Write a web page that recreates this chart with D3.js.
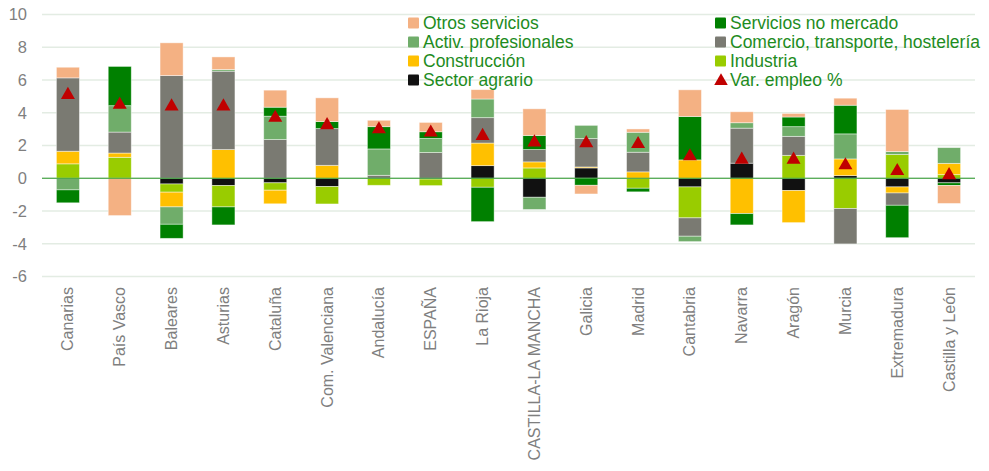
<!DOCTYPE html>
<html><head><meta charset="utf-8">
<script src="https://cdn.jsdelivr.net/npm/d3@7"></script>
<style>body{margin:0;background:#fff;}svg{display:block;font-family:"Liberation Sans",Arial,sans-serif;}</style>
</head><body><svg id="c" width="989" height="471"></svg>
<script>
const categories = ["Canarias","País Vasco","Baleares","Asturias","Cataluña","Com. Valenciana","Andalucía","ESPAÑA","La Rioja","CASTILLA-LA MANCHA","Galicia","Madrid","Cantabria","Navarra","Aragón","Murcia","Extremadura","Castilla y León"];
const sectorAgrario = [0, 0, -0.35, -0.45, -0.28, -0.51, 0, -0.05, 0.77, -1.16, 0.63, 0, -0.53, 0.92, -0.75, 0.16, -0.53, -0.28];
const industria = [0.88, 1.28, -0.5, -1.3, -0.45, -1.06, -0.43, -0.4, -0.55, 0.63, 0, -0.61, -1.89, 0, 1.4, -1.85, 1.45, 0.22];
const construccion = [0.77, 0.26, -0.9, 1.75, -0.83, 0.79, 0, 0, 1.38, 0.37, 0.06, 0.39, 1.12, -2.16, -1.96, 1.02, -0.37, 0.69];
const comercio = [4.48, 1.28, 6.27, 4.79, 2.36, 2.24, 0.18, 1.57, 1.55, 0.75, 1.73, 1.2, -1.12, 2.14, 1.16, -2.16, -0.75, 0];
const activProf = [-0.71, 1.61, -1.06, 0.1, 1.43, 0, 1.61, 0.86, 1.14, -0.75, 0.81, 1.22, -0.33, 0.33, 0.59, 1.53, 0.18, 0.96];
const serviciosNoMercado = [-0.79, 2.4, -0.86, -1.1, 0.55, 0.43, 1.36, 0.41, -2.1, 0.86, -0.43, -0.22, 2.65, -0.69, 0.59, 1.75, -1.98, -0.16];
const otrosServicios = [0.65, -2.28, 2.0, 0.77, 1.04, 1.45, 0.39, 0.57, 0.57, 1.63, -0.53, 0.2, 1.63, 0.67, 0.22, 0.43, 2.57, -1.1];
const varEmpleo = [5.2, 4.6, 4.5, 4.5, 3.8, 3.35, 3.1, 2.9, 2.7, 2.3, 2.25, 2.2, 1.45, 1.25, 1.25, 0.9, 0.55, 0.3];
const yTicks = [-6,-4,-2,0,2,4,6,8,10];

const seriesNames = ["Sector agrario","Industria","Construcción","Comercio, transporte, hostelería","Activ. profesionales","Servicios no mercado","Otros servicios"];
const seriesValues = [sectorAgrario, industria, construccion, comercio, activProf, serviciosNoMercado, otrosServicios];
const colors = ["#111111","#99CC00","#FFC000","#7A7A72","#70AD6A","#008000","#F4B183"];

const svg = d3.select("#c");
const x = d3.scaleBand().domain(categories).range([42, 975]).paddingInner(0.555).paddingOuter(0.2775);
const y = d3.scaleLinear().domain([-6, 10]).range([276.5, 14.5]);

// gridlines
svg.append("g").selectAll("line").data(yTicks).join("line")
  .attr("x1", 42).attr("x2", 975)
  .attr("y1", d => y(d)).attr("y2", d => y(d))
  .attr("stroke", "#E3ECE3").attr("stroke-width", 1.3);

// y labels
svg.append("g").selectAll("text").data(yTicks).join("text")
  .attr("x", 27).attr("y", d => y(d)).attr("dy", "0.35em")
  .attr("text-anchor", "end").attr("font-size", 16.5).attr("fill", "#7F7F7F")
  .text(d => d);

// stacked data
const rows = categories.map((c, i) => {
  const r = {cat: c};
  seriesNames.forEach((s, k) => r[s] = seriesValues[k][i]);
  return r;
});
const stack = d3.stack().keys(seriesNames).offset(d3.stackOffsetDiverging);
const stacked = stack(rows);

const bw = x.bandwidth();
svg.append("g").selectAll("g").data(stacked).join("g")
  .attr("fill", (d, i) => colors[i])
  .selectAll("rect").data(d => d).join("rect")
  .attr("x", d => x(d.data.cat))
  .attr("width", bw)
  .attr("y", d => y(Math.max(d[0], d[1])))
  .attr("height", d => Math.abs(y(d[0]) - y(d[1])))
  .attr("stroke", "#ffffff").attr("stroke-opacity", 0.55).attr("stroke-width", 0.8);

// zero line
svg.append("line").attr("x1", 42).attr("x2", 975).attr("y1", y(0)).attr("y2", y(0))
  .attr("stroke", "#2E9A2E").attr("stroke-width", 1.2);

// triangles (centered on bounding box like the original markers)
const tri = d3.symbol().type(d3.symbolTriangle).size(85);
svg.append("g").selectAll("path").data(varEmpleo).join("path")
  .attr("d", tri)
  .attr("transform", (d, i) => `translate(${x(categories[i]) + bw / 2},${y(d) + 1.8})`)
  .attr("fill", "#C00000");

// x labels
svg.append("g").selectAll("text").data(categories).join("text")
  .attr("transform", d => `translate(${x(d) + bw / 2 + 5.5},287) rotate(-90)`)
  .attr("text-anchor", "end").attr("font-size", 16).attr("fill", "#7F7F7F")
  .text(d => d);

// legend
const legendItems = [
  {name: "Otros servicios", color: colors[6], col: 0, row: 0},
  {name: "Servicios no mercado", color: colors[5], col: 1, row: 0},
  {name: "Activ. profesionales", color: colors[4], col: 0, row: 1},
  {name: "Comercio, transporte, hostelería", color: colors[3], col: 1, row: 1},
  {name: "Construcción", color: colors[2], col: 0, row: 2},
  {name: "Industria", color: colors[1], col: 1, row: 2},
  {name: "Sector agrario", color: colors[0], col: 0, row: 3},
  {name: "Var. empleo %", color: "#C00000", col: 1, row: 3, tri: true}
];
const lg = svg.append("g").selectAll("g").data(legendItems).join("g")
  .attr("transform", d => `translate(${d.col ? 715 : 408},${23 + d.row * 19})`);
lg.each(function(d) {
  const g = d3.select(this);
  if (d.tri) {
    g.append("path").attr("d", d3.symbol().type(d3.symbolTriangle).size(80)).attr("transform", "translate(6,1)").attr("fill", d.color);
  } else {
    g.append("rect").attr("x", 0).attr("y", -5.5).attr("width", 11).attr("height", 11).attr("fill", d.color).attr("rx", 1);
  }
  g.append("text").attr("x", 15).attr("dy", "0.35em").attr("font-size", 17.5).attr("fill", "#1E8C1E").text(d.name);
});
</script></body></html>
